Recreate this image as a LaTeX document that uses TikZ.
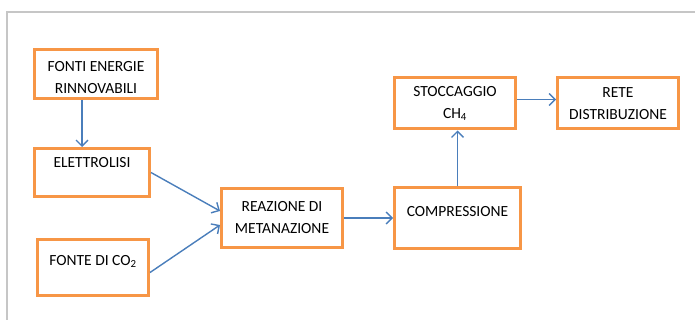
\documentclass[tikz,border=0pt]{standalone}
\usepackage{fontspec}
\setmainfont{Carlito}
\usepackage{tikz}
\usetikzlibrary {arrows.meta,
                 positioning}
\definecolor{boxorange}{HTML}{F79646}
\definecolor{flowblue}{HTML}{4A7EBB}
\tikzset{
        base/.style={draw=boxorange, line width=3pt, align=center, inner sep=0pt,
                     font=\fontsize{15.5pt}{22pt}\selectfont},
        blk/.style={base, rectangle},
        topblk/.style={base, rectangle, text height=#1},
        myarrow/.style={-{Straight Barb[length=6pt, width=12pt]}, draw=flowblue,
                        line width=1.4pt},
 }

\begin{document}
\begin{tikzpicture}[x=1pt, y=1pt]
    \useasboundingbox (0,0) rectangle (695,-320);
    \draw[gray!45, line width=1.8pt] (7,-320) -- (7,-12) -- (695,-12);

    \node[blk, minimum width=123pt, minimum height=49pt] (fer) at (96,-74)
        {\rule{0pt}{17pt}FONTI ENERGIE\\RINNOVABILI};
    \node[topblk=19pt, text depth=29pt, minimum width=115pt,
          below=47pt of fer, xshift=-4pt] (el) {ELETTROLISI};
    \node[topblk=26pt, text depth=30pt, minimum width=111pt,
          below=40pt of el, xshift=1pt] (co) {FONTE DI CO\textsubscript{2}};

    \node[blk, minimum width=121pt, minimum height=59pt] (rm) at (282,-218)
        {REAZIONE DI\\METANAZIONE};
    \node[topblk=28pt, text depth=32pt, minimum width=126pt,
          right=49pt of rm] (cp) {COMPRESSIONE};
    \node[blk, minimum width=121pt, minimum height=51pt,
          above=56pt of cp, xshift=-2.5pt] (st) {STOCCAGGIO\\CH\textsubscript{4}};
    \node[blk, minimum width=121pt, minimum height=51pt,
          right=39pt of st] (rd) {RETE\\DISTRIBUZIONE};

    \draw[myarrow] ([xshift=-14pt]fer.south) -- ([xshift=-14pt]fer.south |- el.north);
    \draw[myarrow] (el.east) -- ([yshift=7pt]rm.west);
    \draw[myarrow] ([yshift=-5pt]co.east) -- ([yshift=-7pt]rm.west);
    \draw[myarrow] (rm.east) -- (cp.west);
    \draw[myarrow] (cp.north) -- (cp.north |- st.south);
    \draw[myarrow] ([yshift=4pt]st.east) -- ([yshift=4pt]rd.west);
\end{tikzpicture}
\end{document}
